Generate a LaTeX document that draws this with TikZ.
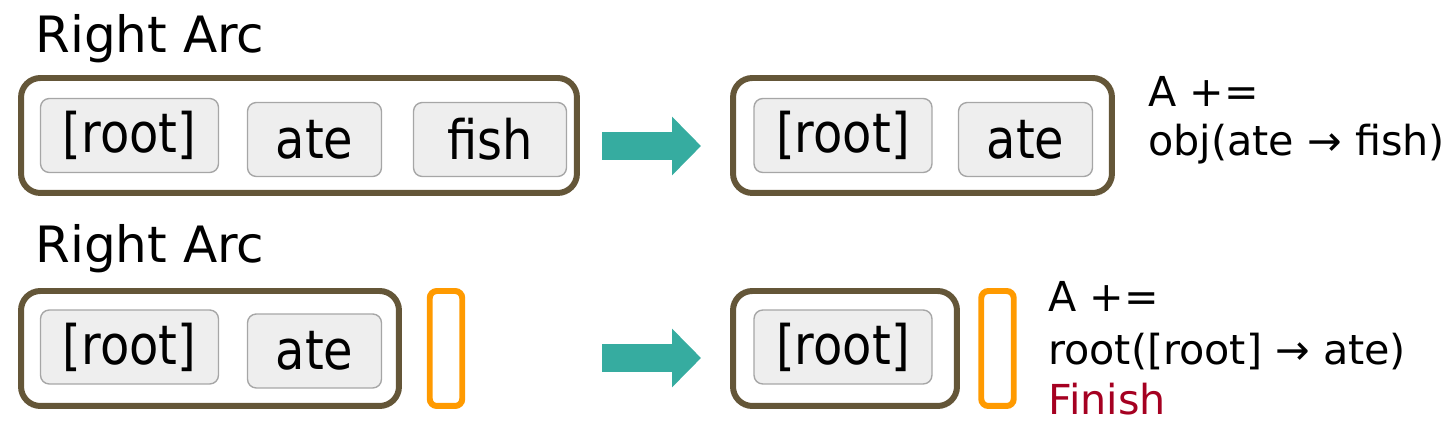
\documentclass[tikz,border=0pt]{standalone}
\usepackage{fontspec}
\setmainfont{DejaVu Sans}
\newfontfamily\wordfont[FakeStretch=0.88]{DejaVu Sans}
\usetikzlibrary{arrows.meta, positioning}
\definecolor{stackbrown}{HTML}{645638}
\definecolor{wordgray}{HTML}{EEEEEE}
\definecolor{wordline}{HTML}{A6A6A6}
\definecolor{buforange}{HTML}{FF9A00}
\definecolor{arrowteal}{HTML}{36ACA0}
\definecolor{finishred}{HTML}{A50021}

\begin{document}
\begin{tikzpicture}[x=0.02cm, y=-0.02cm,
  stack/.style={draw=stackbrown, line width=3.4pt, rounded corners=11pt, minimum height=2.3cm, inner sep=0pt},
  buffer/.style={draw=buforange, line width=3.4pt, rounded corners=4pt, minimum width=0.65cm, minimum height=2.3cm, inner sep=0pt},
  word/.style={draw=wordline, fill=wordgray, line width=0.8pt, rounded corners=5pt, minimum height=1.48cm, inner sep=0pt, font=\wordfont\fontsize{31}{36}\selectfont},
  title/.style={anchor=base west, inner sep=0pt, font=\fontsize{28.5}{34}\selectfont},
  result/.style={anchor=base west, inner sep=0pt, font=\fontsize{23.5}{28}\selectfont},
  flow/.style={arrowteal, line width=0.56cm, -{Triangle[length=0.58cm, width=1.14cm]}},
]
  \useasboundingbox (0,0) rectangle (1455,435);

  % first step
  \node[title] (h1) at (35,53) {Right Arc};
  \node[stack, minimum width=11.12cm] (s1) at (299,135.5) {};
  \node[word, minimum width=3.56cm] (s1root) at (129.5,135.5) {[root]};
  \node[word, minimum width=2.68cm] (s1ate) at (314.5,139.5) {ate};
  \node[word, minimum width=3.06cm] (s1fish) at (490,139.5) {fish};

  \coordinate (a1s) at (602,146);
  \coordinate (a1e) at (701,146);
  \draw[flow] (a1s) -- (a1e);

  \node[stack, minimum width=7.58cm] (s2) at (922.5,135.5) {};
  \node[word, minimum width=3.56cm] (s2root) at (843,135.5) {[root]};
  \node[word, minimum width=2.68cm] (s2ate) at (1025.5,139.5) {ate};

  \node[result] (r1a) at (1148,107) {A +=};
  \node[result] (r1b) at (1148,156) {obj(ate → fish)};

  % second step
  \node[title] (h2) at (35,263) {Right Arc};
  \node[stack, minimum width=7.56cm] (s3) at (210,348.5) {};
  \node[word, minimum width=3.56cm] (s3root) at (129.5,347) {[root]};
  \node[word, minimum width=2.68cm] (s3ate) at (314.5,351) {ate};
  \node[buffer] (b3) at (446,348.5) {};

  \coordinate (a2s) at (602,358);
  \coordinate (a2e) at (701,358);
  \draw[flow] (a2s) -- (a2e);

  \node[stack, minimum width=4.48cm] (s4) at (845,348.5) {};
  \node[word, minimum width=3.56cm] (s4root) at (843,347) {[root]};
  \node[buffer] (b4) at (997.5,348.5) {};

  \node[result] (r2a) at (1048,312) {A +=};
  \node[result] (r2b) at (1048,365) {root([root] → ate)};
  \node[result, text=finishred] (r2c) at (1048,415) {Finish};
\end{tikzpicture}
\end{document}
